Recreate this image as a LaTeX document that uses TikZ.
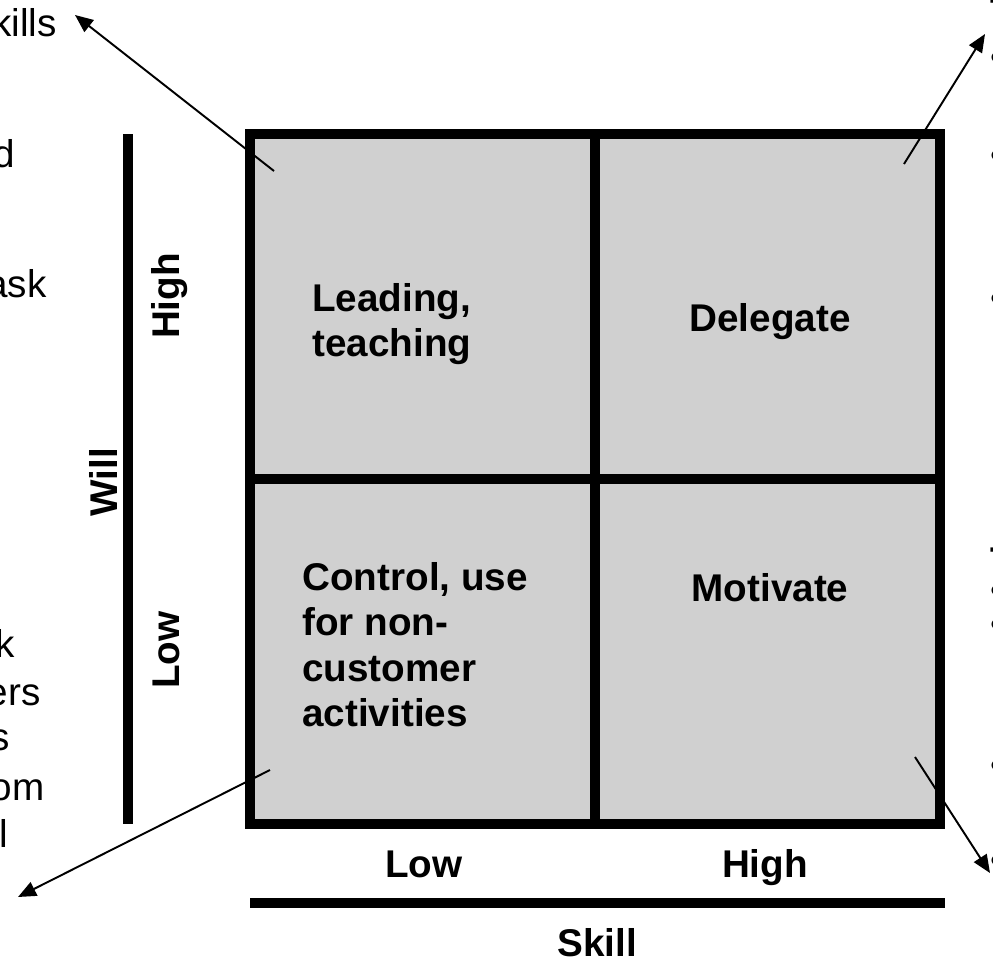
\documentclass[tikz,border=0pt]{standalone}
\usepackage{fontspec}
\setmainfont{Liberation Sans}
\usetikzlibrary{arrows.meta,positioning}
\definecolor{cellgray}{HTML}{D0D0D0}

\begin{document}
\begin{tikzpicture}[
  x=0.02cm,y=-0.02cm,
  cell/.style={draw=black,line width=0.2cm,fill=cellgray,minimum width=6.9cm,minimum height=6.9cm,outer sep=0pt,inner sep=0pt},
  celltext/.style={font=\fontsize{22}{25.9}\selectfont\bfseries,align=left,inner sep=0pt},
  axislabel/.style={font=\fontsize{22}{26}\selectfont\bfseries,inner sep=0pt},
  sidetext/.style={font=\fontsize{22}{26}\selectfont,inner sep=0pt,anchor=base east},
  cuttext/.style={font=\fontsize{22}{26}\selectfont,inner sep=0pt,anchor=base west},
  bar/.style={line width=0.2cm,draw=black},
  pointer/.style={-{Triangle[length=3.6mm,width=3mm]},line width=1.1pt,draw=black}
]
\path[use as bounding box] (0,0) rectangle (993,963);
\clip (0,0) rectangle (993,963);

% quadrants
\node[cell] (lowhigh) at (422.5,306.5) {};
\node[cell,right=0pt of lowhigh] (highhigh) {};
\node[cell,below=0pt of lowhigh] (lowlow) {};
\node[cell,right=0pt of lowlow] (highlow) {};

\node[celltext,anchor=north west] (leadtext) at (312,283) {Leading,\\teaching};
\node[celltext,anchor=base] (delegtext) at (770,331) {Delegate};
\node[celltext,anchor=north west] (ctrltext) at (302,562) {Control, use\\for non-\\customer\\activities};
\node[celltext,anchor=base] (motivtext) at (770,601) {Motivate};

% axes
\coordinate (willtop) at (128,134);
\coordinate (willbot) at (128,824);
\coordinate (skillleft) at (250,903);
\coordinate (skillright) at (945,903);
\draw[bar] (willtop) -- (willbot);
\draw[bar] (skillleft) -- (skillright);
\node[axislabel,rotate=90,anchor=base] (willlabel) at (117,482) {Will};
\node[axislabel,rotate=90,anchor=base] (willhigh) at (179,296) {High};
\node[axislabel,rotate=90,anchor=base] (willlow) at (179,650) {Low};
\node[axislabel,anchor=base] (skilllow) at (424,877) {Low};
\node[axislabel,anchor=base] (skillhigh) at (765,877) {High};
\node[axislabel,anchor=base] (skilllabel) at (597,956) {Skill};

% text cut off at the left edge
\node[sidetext] (lt1) at (57,37) {kills};
\node[sidetext] (lt2) at (15,167) {d};
\node[sidetext] (lt3) at (47,297) {ask};
\node[sidetext] (lb1) at (15,657) {k};
\node[sidetext] (lb2) at (41,705) {ers};
\node[sidetext] (lb3) at (10,750) {s};
\node[sidetext] (lb4) at (45,800) {om};
\node[sidetext] (lb5) at (8,847) {l};

% text cut off at the right edge
\node[cuttext,font=\fontsize{22}{26}\selectfont\bfseries] (rt0) at (990,26) {T};
\foreach \y [count=\i] in {71,168,311}
  \node[cuttext] (rt\i) at (990,\y) {•};
\node[cuttext,font=\fontsize{22}{26}\selectfont\bfseries] (rb0) at (990,574) {T};
\foreach \y [count=\i] in {603,637,778,873}
  \node[cuttext] (rb\i) at (990,\y) {•};

% pointers
\coordinate (lhfrom) at (274,171);
\coordinate (lhto) at (75,15);
\coordinate (hhfrom) at (904,164);
\coordinate (hhto) at (985,34);
\coordinate (llfrom) at (270,770);
\coordinate (llto) at (18,897);
\coordinate (hlfrom) at (915,757);
\coordinate (hlto) at (990,873);
\draw[pointer] (lhfrom) -- (lhto);
\draw[pointer] (hhfrom) -- (hhto);
\draw[pointer] (llfrom) -- (llto);
\draw[pointer] (hlfrom) -- (hlto);
\end{tikzpicture}
\end{document}
